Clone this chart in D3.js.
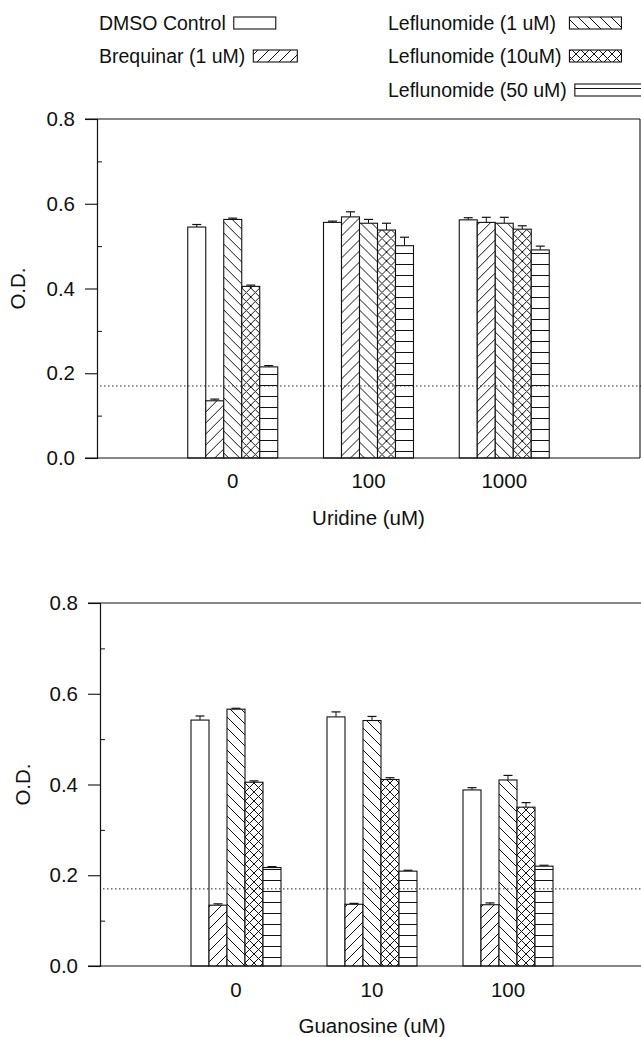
<!DOCTYPE html>
<html>
<head>
<meta charset="utf-8">
<script src="https://cdn.jsdelivr.net/npm/d3@7"></script>
<style>
  html, body { margin: 0; padding: 0; background: #fff; }
  svg { display: block; font-family: "Liberation Sans", Arial, Helvetica, sans-serif; }
</style>
</head>
<body>
<svg id="chart" width="641" height="1037"></svg>
<script>
// ---------------- data ----------------
const seriesNames = ["DMSO Control", "Brequinar (1 uM)", "Leflunomide (1 uM)", "Leflunomide (10uM)", "Leflunomide (50 uM)"];
const seriesPatterns = ["none", "fwd", "back", "cross", "horiz"];

const uridineCategories = ["0", "100", "1000"];
// rows = uridine concentration, columns = series
const uridineMeans = [
  [0.545, 0.135, 0.563, 0.405, 0.215],
  [0.556, 0.569, 0.554, 0.538, 0.501],
  [0.562, 0.556, 0.554, 0.540, 0.491]
];
const uridineErrors = [
  [0.006, 0.004, 0.003, 0.003, 0.003],
  [0.003, 0.012, 0.009, 0.016, 0.020],
  [0.005, 0.012, 0.014, 0.008, 0.009]
];

const guanosineCategories = ["0", "10", "100"];
const guanosineMeans = [
  [0.542, 0.134, 0.566, 0.405, 0.217],
  [0.549, 0.136, 0.541, 0.411, 0.209],
  [0.388, 0.135, 0.410, 0.350, 0.220]
];
const guanosineErrors = [
  [0.009, 0.003, 0.002, 0.003, 0.002],
  [0.011, 0.002, 0.009, 0.004, 0.002],
  [0.005, 0.004, 0.010, 0.010, 0.002]
];

const majorTicks = [0.0, 0.2, 0.4, 0.6, 0.8];
const minorTicks = [0.1, 0.3, 0.5, 0.7];
const backgroundLevel = 0.17;
const yLabel = "O.D.";

// ---------------- drawing ----------------
const svg = d3.select("#chart");
const defs = svg.append("defs");
const ink = "#111";

function addPattern(id, size, paths) {
  const p = defs.append("pattern")
    .attr("id", id).attr("patternUnits", "userSpaceOnUse")
    .attr("width", size).attr("height", size);
  p.append("rect").attr("width", size).attr("height", size).attr("fill", "#fff");
  paths.forEach(d => p.append("path").attr("d", d)
    .attr("stroke", ink).attr("stroke-width", 1).attr("fill", "none"));
}
addPattern("fwd", 11, ["M-1,12 L12,-1", "M-3,3 L3,-3", "M8,14 L14,8"]);
addPattern("back", 11, ["M-1,-1 L12,12", "M-3,8 L3,14", "M8,-3 L14,3"]);
addPattern("cross", 9, ["M-1,-1 L10,10", "M-1,10 L10,-1"]);
addPattern("horiz", 11, ["M0,0.5 L11,0.5"]);

function fillFor(p) { return p === "none" ? "#fff" : `url(#${p})`; }

const panels = [
  { cats: uridineCategories, means: uridineMeans, errs: uridineErrors, title: "Uridine (uM)",
    x0: 97, x1: 640, yTop: 119, yBot: 458, labelY: 488, titleY: 525, odX: 25, rightBorder: true },
  { cats: guanosineCategories, means: guanosineMeans, errs: guanosineErrors, title: "Guanosine (uM)",
    x0: 100, x1: 644, yTop: 603, yBot: 966, labelY: 997, titleY: 1033, odX: 30, rightBorder: true }
];

const fsAxis = 20.5;
const fsLegend = 19.5;

panels.forEach(P => {
  const g = svg.append("g");
  const y = d3.scaleLinear().domain([0, 0.8]).range([P.yBot, P.yTop]);
  const xGroup = d3.scalePoint().domain(P.cats).range([P.x0, P.x1]).padding(1);
  const xBar = d3.scaleBand().domain(d3.range(seriesNames.length)).range([-45, 45]).padding(0);

  // bars
  P.cats.forEach((c, ci) => {
    const gg = g.append("g").attr("transform", `translate(${xGroup(c)},0)`);
    P.means[ci].forEach((v, si) => {
      const bx = xBar(si), bw = xBar.bandwidth();
      const top = y(v + P.errs[ci][si]);
      const cx = bx + bw / 2;
      gg.append("line").attr("x1", cx).attr("x2", cx).attr("y1", y(v)).attr("y2", top)
        .attr("stroke", ink).attr("stroke-width", 1);
      gg.append("line").attr("x1", cx - 4.5).attr("x2", cx + 4.5).attr("y1", top).attr("y2", top)
        .attr("stroke", ink).attr("stroke-width", 1.2);
      gg.append("rect").attr("x", bx).attr("y", y(v)).attr("width", bw).attr("height", y(0) - y(v))
        .attr("fill", fillFor(seriesPatterns[si])).attr("stroke", ink).attr("stroke-width", 1.1);
    });
  });

  // dotted background line
  g.append("line").attr("x1", P.x0 + 3).attr("x2", 641).attr("y1", y(backgroundLevel)).attr("y2", y(backgroundLevel))
    .attr("stroke", "#222").attr("stroke-width", 1).attr("stroke-dasharray", "1.5,2.5");

  // frame lines
  g.append("line").attr("x1", P.x0 - 12).attr("x2", P.x1).attr("y1", y(0.8)).attr("y2", y(0.8))
    .attr("stroke", ink).attr("stroke-width", 1.2);
  g.append("line").attr("x1", P.x0 - 12).attr("x2", P.x1).attr("y1", y(0)).attr("y2", y(0))
    .attr("stroke", ink).attr("stroke-width", 1.2);
  if (P.rightBorder) {
    g.append("line").attr("x1", P.x1).attr("x2", P.x1).attr("y1", y(0.8)).attr("y2", y(0))
      .attr("stroke", ink).attr("stroke-width", 1.1);
  }

  // y axis major
  const ax = g.append("g").attr("transform", `translate(${P.x0},0)`)
    .call(d3.axisLeft(y).tickValues(majorTicks).tickSize(12).tickPadding(10).tickFormat(d3.format(".1f")));
  ax.select(".domain").attr("stroke", ink).attr("stroke-width", 1.2);
  ax.selectAll(".tick line").attr("stroke", ink).attr("stroke-width", 1.1);
  ax.selectAll("text").attr("font-size", fsAxis).attr("fill", ink).attr("font-family", null);
  // y axis minor (inside)
  const axm = g.append("g").attr("transform", `translate(${P.x0},0)`)
    .call(d3.axisRight(y).tickValues(minorTicks).tickSize(5).tickFormat(""));
  axm.select(".domain").remove();
  axm.selectAll(".tick line").attr("stroke", ink).attr("stroke-width", 1);

  // y title
  g.append("text").attr("transform", `translate(${P.odX},${(P.yTop + P.yBot) / 2}) rotate(-90)`)
    .attr("text-anchor", "middle").attr("font-size", fsAxis).attr("fill", ink).text(yLabel);

  // x labels
  P.cats.forEach(c => {
    g.append("text").attr("x", xGroup(c)).attr("y", P.labelY).attr("text-anchor", "middle")
      .attr("font-size", fsAxis).attr("fill", ink).text(c);
  });
  g.append("text").attr("x", xGroup(P.cats[1])).attr("y", P.titleY).attr("text-anchor", "middle")
    .attr("font-size", fsAxis).attr("fill", ink).text(P.title);
});

// ---------------- legend ----------------
// column/row layout; boxes follow the text (right column boxes 1 & 2 aligned)
const legendLayout = [
  { tx: 99, by: 30, bw: 42, align: null },
  { tx: 99, by: 63, bw: 44, align: null },
  { tx: 388, by: 30, bw: 52, align: "r" },
  { tx: 388, by: 63, bw: 52, align: "r" },
  { tx: 388, by: 97, bw: 70, align: null }
];
const lg = svg.append("g");
const ends = [];
seriesNames.forEach((name, i) => {
  const L = legendLayout[i];
  const t = lg.append("text").attr("x", L.tx).attr("y", L.by).attr("font-size", fsLegend).attr("fill", ink).text(name);
  ends.push(L.tx + t.node().getComputedTextLength());
});
const alignedEnd = d3.max(ends.filter((e, i) => legendLayout[i].align === "r"));
seriesNames.forEach((name, i) => {
  const L = legendLayout[i];
  const bx = (L.align === "r" ? alignedEnd : ends[i]) + 8;
  lg.append("rect").attr("x", bx).attr("y", L.by - 13).attr("width", L.bw).attr("height", 12)
    .attr("fill", fillFor(seriesPatterns[i])).attr("stroke", ink).attr("stroke-width", 1.1);
});
</script>
</body>
</html>
